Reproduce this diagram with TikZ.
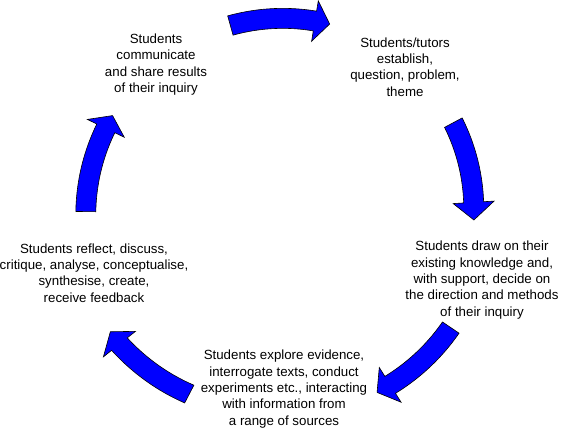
\documentclass[tikz,border=0pt]{standalone}
\usepackage{fontspec}
\setmainfont{Liberation Sans}
\tikzset{
  cyclearrow/.style={fill=blue, draw=black, line width=0.6pt, line join=miter},
  stagetext/.style={align=center, font=\fontsize{13.3}{16.3}\selectfont, inner sep=0pt},
}
% #1 tail angle, #2 head-base angle, #3 tip angle, #4 radius at tail, #5 radius at head
\newcommand\cyclearr[5]{%
  \filldraw[cyclearrow]
    plot[domain=#1:#2, samples=30]
      ({283+(#4+(#5-#4)*(\x-(#1))/((#2)-(#1))+10)*cos(\x)},
       {214+(#4+(#5-#4)*(\x-(#1))/((#2)-(#1))+10)*sin(\x)})
    -- ({283+(#5+20.5)*cos(#2)}, {214+(#5+20.5)*sin(#2)})
    -- ({283+(#5)*cos(#3)}, {214+(#5)*sin(#3)})
    -- ({283+(#5-20.5)*cos(#2)}, {214+(#5-20.5)*sin(#2)})
    -- plot[domain=#2:#1, samples=30]
      ({283+(#4+(#5-#4)*(\x-(#1))/((#2)-(#1))-10)*cos(\x)},
       {214+(#4+(#5-#4)*(\x-(#1))/((#2)-(#1))-10)*sin(\x)})
    -- cycle;
}
\begin{document}
\begin{tikzpicture}[x=1pt,y=1pt]
  \fill[white] (0,0) rectangle (567,428);
  \useasboundingbox (0,0) rectangle (567,428);

  \node[stagetext] (comm) at (156,363.3) {Students\\communicate\\and share results\\of their inquiry};
  \node[stagetext] (estab) at (405,361) {Students/tutors\\establish,\\question, problem,\\theme};
  \node[stagetext] (draw) at (482,148) {Students draw on their\\existing knowledge and,\\with support, decide on\\the direction and methods\\of their inquiry};
  \node[stagetext] (explore) at (284,39) {Students explore evidence,\\interrogate texts, conduct\\experiments etc., interacting\\with information from\\a range of sources};
  \node[stagetext] (reflect) at (94,155.2) {Students reflect, discuss,\\critique, analyse, conceptualise,\\synthesise, create,\\receive feedback};

  \cyclearr{105.6}{80.6}{76.2}{195.7}{195.6}
  \cyclearr{28.2}{3.5}{-1.8}{193.3}{191}
  \cyclearr{-34.1}{-57.9}{-62.2}{202.6}{201.7}
  \cyclearr{-117.5}{-141.5}{-145.7}{203}{209}
  \cyclearr{179.3}{154.2}{150}{197.2}{196.8}
\end{tikzpicture}
\end{document}
